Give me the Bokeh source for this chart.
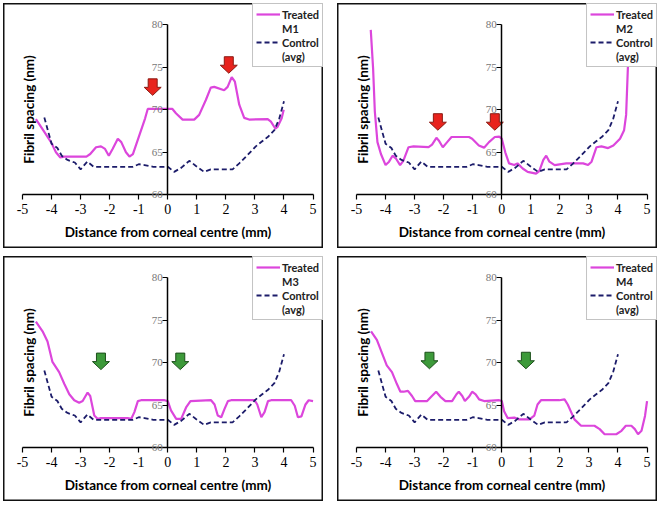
from bokeh.plotting import figure
from bokeh.models import LinearAxis, FixedTicker, Range1d, Legend, LegendItem
from bokeh.layouts import row, column
from bokeh.embed import file_html
from bokeh.resources import INLINE

# ---------------- data ----------------
ticks_x = [-5, -4, -3, -2, -1, 0, 1, 2, 3, 4, 5]
ticks_y = [60, 65, 70, 75, 80]

control_x = [-4.25, -4.0, -3.8, -3.65, -3.45, -3.2, -3.0, -2.77, -2.55, -2.0, -1.5, -1.2, -1.0, -0.8,
             -0.5, -0.25, 0.0, 0.22, 0.47, 0.74, 0.97, 1.25, 1.48, 2.0, 2.23, 2.46, 2.75, 3.03, 3.25,
             3.44, 3.67, 3.84, 4.0]
control_y = [69.1, 66.0, 65.5, 64.6, 64.1, 63.8, 63.0, 63.9, 63.3, 63.3, 63.3, 63.3, 63.6, 63.5,
             63.3, 63.3, 63.3, 62.7, 63.2, 64.0, 63.4, 62.7, 63.0, 63.0, 63.0, 63.7, 64.7, 65.7, 66.3,
             66.8, 67.6, 69.0, 71.0]

m1_x = [-4.54, -4.25, -4.02, -3.85, -3.7, -3.56, -2.8, -2.67, -2.47, -2.3, -2.16, -2.03, -1.9, -1.72,
        -1.6, -1.44, -1.32, -1.2, -0.98, -0.78, -0.69, -0.46, 0.16, 0.28, 0.51, 0.91, 1.08, 1.31, 1.48,
        1.6, 1.94, 2.06, 2.2, 2.31, 2.46, 2.63, 2.8, 3.44, 3.55, 3.7, 3.78, 3.92, 3.99]
m1_y = [68.9, 67.4, 66.2, 65.0, 64.4, 64.5, 64.5, 64.8, 65.6, 65.7, 65.4, 64.6, 65.4, 66.6,
        66.2, 65.0, 64.5, 64.8, 67.0, 69.0, 70.1, 70.1, 70.1, 69.6, 68.85, 68.85, 69.4, 71.15, 72.6,
        72.7, 72.3, 72.7, 73.85, 73.3, 70.6, 69.05, 68.85, 68.9, 68.6, 67.8, 68.0, 69.0, 70.0]

m2_x = [-4.51, -4.43, -4.37, -4.28, -4.16, -4.0, -3.88, -3.76, -3.65, -3.5, -3.39, -3.21, -3.04, -2.52,
        -2.4, -2.25, -2.17, -2.03, -1.88, -1.73, -1.13, -1.02, -0.79, -0.61, -0.44, -0.24, -0.09, 0.0,
        0.12, 0.25, 0.43, 0.54, 0.72, 0.89, 1.18, 1.29, 1.43, 1.53, 1.64, 1.82, 2.22, 2.8, 2.97, 3.09,
        3.26, 3.43, 3.66, 3.84, 4.07, 4.21, 4.28, 4.34, 4.4]
m2_y = [79.4, 74.9, 69.8, 66.2, 64.8, 63.5, 63.9, 64.6, 64.3, 63.5, 64.0, 65.6, 65.7, 65.6,
        65.9, 66.7, 66.4, 65.6, 66.2, 66.8, 66.8, 66.6, 65.8, 65.55, 66.2, 66.8, 66.85, 66.6,
        65.0, 63.7, 63.5, 63.7, 63.1, 62.7, 62.5, 62.8, 64.1, 64.6, 63.9, 63.5, 63.7, 63.7, 63.5, 63.9,
        65.6, 65.7, 65.5, 65.8, 66.6, 67.6, 69.4, 74.9, 80.5]

m3_x = [-4.54, -4.31, -4.14, -3.97, -3.74, -3.56, -3.39, -3.22, -3.05, -2.93, -2.76, -2.67, -2.53,
        -2.41, -2.3, -1.38, -1.26, -1.15, -1.03, -0.92, -0.11, 0.0, 0.11, 0.29, 0.46, 0.63, 0.78, 1.49,
        1.61, 1.72, 1.84, 1.95, 2.07, 2.18, 2.99, 3.08, 3.22, 3.33, 3.45, 3.56, 4.25, 4.37, 4.48, 4.6,
        4.74, 4.85, 5.0]
m3_y = [74.85, 73.7, 72.5, 70.1, 68.9, 67.5, 66.3, 65.6, 65.3, 65.5, 66.5, 66.1, 63.8,
        63.4, 63.5, 63.5, 63.4, 64.2, 65.5, 65.6, 65.6, 65.5, 64.4, 63.4, 63.4, 64.75, 65.5, 65.6,
        65.1, 63.8, 63.6, 64.55, 65.5, 65.6, 65.6, 65.1, 63.6, 64.2, 65.5, 65.6, 65.6, 64.95, 63.6, 63.7,
        65.1, 65.6, 65.5]

m4_x = [-4.5, -4.3, -4.13, -3.96, -3.78, -3.61, -3.49, -3.38, -3.23, -3.09, -2.98, -2.57, -2.43,
        -2.26, -2.11, -1.94, -1.71, -1.56, -1.48, -1.36, -1.27, -1.13, -1.02, -0.9, -0.78, -0.61, -0.09,
        0.0, 0.08, 0.2, 0.43, 0.6, 0.95, 1.12, 1.23, 1.35, 1.98, 2.16, 2.27, 2.5, 2.73, 2.96, 3.19,
        3.37, 3.54, 3.94, 4.12, 4.27, 4.46, 4.58, 4.69, 4.81, 4.93, 5.0]
m4_y = [73.7, 72.7, 71.2, 69.7, 68.9, 67.5, 66.6, 66.6, 66.7, 66.1, 65.5, 65.5, 66.0,
        66.6, 66.0, 65.5, 65.5, 66.3, 66.6, 66.1, 65.5, 66.0, 66.6, 66.3, 65.7, 65.5, 65.6,
        65.5, 64.3, 63.5, 63.55, 63.35, 63.35, 63.8, 65.1, 65.6, 65.6, 65.7, 65.1, 63.35, 62.6, 62.6, 62.6,
        62.2, 61.6, 61.6, 62.0, 62.6, 62.6, 62.2, 61.6, 62.0, 63.75, 65.5]

# arrow tip positions (x, y)
m1_arrow_x = [-0.52, 2.1]
m1_arrow_y = [71.7, 74.3]
m2_arrow_x = [-2.2, -0.24]
m2_arrow_y = [67.6, 67.6]
m3_arrow_x = [-2.3, 0.43]
m3_arrow_y = [69.2, 69.2]
m4_arrow_x = [-2.49, 0.83]
m4_arrow_y = [69.3, 69.3]

panel_labels = ["M1", "M2", "M3", "M4"]

# ---------------- style ----------------
W, H = 320, 245
X0, X1 = -5.655, 5.36
Y0, Y1 = 53.69, 82.5
TREATED = "#dc46dc"
CONTROL = "#1c1c6a"
RED_FILL, RED_EDGE = "#e8231d", "#8a1a12"
GREEN_FILL, GREEN_EDGE = "#3d9a3a", "#1d4f1b"


def arrow_polys(xs, ys):
    kx = W / (X1 - X0)
    ky = H / (Y1 - Y0)
    hw, sw = 8.5 / kx, 4.5 / kx
    hh, sh = 8.0 / ky, 8.5 / ky
    px, py = [], []
    for xt, yt in zip(xs, ys):
        px.append([xt, xt - hw, xt - sw, xt - sw, xt + sw, xt + sw, xt + hw])
        py.append([yt, yt + hh, yt + hh, yt + hh + sh, yt + hh + sh, yt + hh, yt + hh])
    return px, py


def make_panel(label, tx, ty, axs, ays, fill, edge):
    p = figure(width=W, height=H, x_range=Range1d(X0, X1), y_range=Range1d(Y0, Y1),
               output_backend="svg", toolbar_location=None, x_axis_type=None, y_axis_type=None,
               min_border=0)
    p.grid.visible = False
    p.outline_line_color = "#111111"
    p.outline_line_width = 2
    p.background_fill_color = "white"
    p.border_fill_color = "white"

    # x axis at y = 60
    xaxis = LinearAxis(fixed_location=60, bounds=(-5, 5), ticker=FixedTicker(ticks=ticks_x),
                       major_label_overrides={t: str(t) for t in ticks_x},
                       major_tick_out=5, major_tick_in=0, minor_tick_line_color=None,
                       axis_line_width=1.5, axis_line_color="black", major_tick_line_width=1.2,
                       major_label_text_font="Liberation Serif", major_label_text_font_size="14px",
                       major_label_text_color="black", major_label_standoff=4,
                       axis_label="Distance from corneal centre (mm)", axis_label_text_font="Lato",
                       axis_label_text_font_style="bold", axis_label_text_font_size="13.5px",
                       axis_label_text_color="black", axis_label_standoff=7)
    p.add_layout(xaxis, "below")

    # y axis at x = 0
    yaxis = LinearAxis(fixed_location=0, bounds=(60, 80), ticker=FixedTicker(ticks=ticks_y),
                       major_label_overrides={t: str(t) for t in ticks_y},
                       major_tick_out=5, major_tick_in=0, minor_tick_line_color=None,
                       axis_line_width=1.5, axis_line_color="black", major_tick_line_width=1.2,
                       major_label_text_font="Liberation Serif", major_label_text_font_size="11px",
                       major_label_text_color="#777777", major_label_standoff=0)
    p.add_layout(yaxis, "left")

    # y title
    ytitle = LinearAxis(fixed_location=-4.52, bounds=(60, 80), ticker=FixedTicker(ticks=[]),
                        axis_line_color=None, major_tick_line_color=None, minor_tick_line_color=None,
                        axis_label="Fibril spacing (nm)", axis_label_text_font="Lato",
                        axis_label_text_font_style="bold", axis_label_text_font_size="13.5px",
                        axis_label_text_color="black", axis_label_standoff=0)
    p.add_layout(ytitle, "left")

    rt = p.line(tx, ty, line_color=TREATED, line_width=2.2)
    rc = p.line(control_x, control_y, line_color=CONTROL, line_width=1.8, line_dash="5 3")
    dummy = p.line(x=[], y=[], line_alpha=0)

    px, py = arrow_polys(axs, ays)
    p.patches(px, py, fill_color=fill, line_color=edge, line_width=1)

    legend = Legend(items=[LegendItem(label="Treated", renderers=[rt]),
                           LegendItem(label=label, renderers=[dummy]),
                           LegendItem(label="Control", renderers=[rc]),
                           LegendItem(label="(avg)", renderers=[dummy])],
                    location="top_right", margin=0, padding=3, spacing=0,
                    label_height=14, glyph_height=14, glyph_width=24, label_standoff=2,
                    label_text_font="Lato", label_text_font_style="bold",
                    label_text_font_size="11px", label_text_color="#222222",
                    border_line_color="#888888", border_line_width=1,
                    background_fill_color="white", background_fill_alpha=1.0)
    p.add_layout(legend)
    return p


p1 = make_panel(panel_labels[0], m1_x, m1_y, m1_arrow_x, m1_arrow_y, RED_FILL, RED_EDGE)
p2 = make_panel(panel_labels[1], m2_x, m2_y, m2_arrow_x, m2_arrow_y, RED_FILL, RED_EDGE)
p3 = make_panel(panel_labels[2], m3_x, m3_y, m3_arrow_x, m3_arrow_y, GREEN_FILL, GREEN_EDGE)
p4 = make_panel(panel_labels[3], m4_x, m4_y, m4_arrow_x, m4_arrow_y, GREEN_FILL, GREEN_EDGE)

layout = column(row(p1, p2, spacing=14), row(p3, p4, spacing=14), spacing=8,
                margin=(3, 0, 0, 3))

open("out.html", "w").write(file_html(layout, INLINE))
